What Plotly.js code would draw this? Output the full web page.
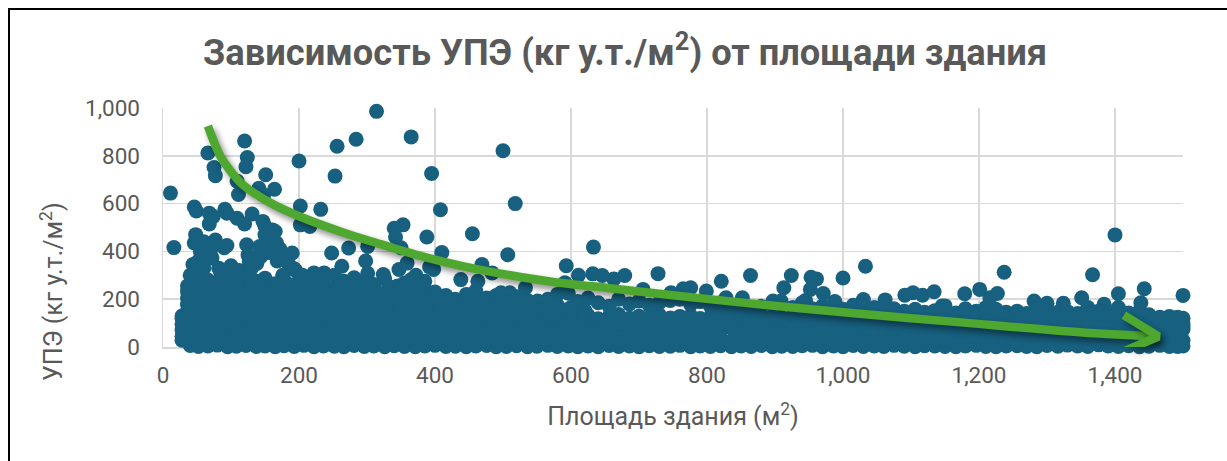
<!DOCTYPE html>
<html>
<head>
<meta charset="utf-8">
<script src="https://cdn.plot.ly/plotly-3.0.1.min.js"></script>
<style>
html,body{margin:0;padding:0;background:#fff;overflow:hidden}
#wrap{position:relative;width:1227px;height:461px}
#chart{width:1227px;height:461px}
#frame{position:absolute;left:8px;top:8px;right:0;bottom:0;border-left:2px solid #000;border-top:2px solid #000;pointer-events:none}
</style>
</head>
<body>
<div id="wrap"><div id="chart"></div><div id="frame"></div></div>
<script>
const chartTitle = 'Зависимость УПЭ (кг у.т./м<sup>2</sup>) от площади здания';
const xAxisTitle = 'Площадь здания (м<sup>2</sup>)';
const yAxisTitle = 'УПЭ (кг у.т./м<sup>2</sup>)';

// isolated buildings above the main cloud
const outlierX = [11,66,120,124,122,75,77,151,109,200,256,284,314,365,253,395,500,518,408,111,141,148,164,202,232,46,49,68,91,94,109,131,120,147,161,165,68,74,202,216,340,353,388,455,342,
 16,46,94,123,77,633,507,593,611,632,646,663,469,484,398,438,463,273,248,301,298,263,190,167,127,144,359,347,324,301,222,237,193,510,497,533,551,580,591,365,385,
 679,728,821,864,924,913,953,961,952,971,1000,1033,1237,1367,1400,1443,1405,1500,1103,1117,1134,1091,1179,1201,1216,1227,1146,1281,1351,776,765,799,747,706,828,852,897,909,945,988,1030,1062,1300,1324,1384,1438,
 44,52,60,72,85,100,112,125,138,150,158,172,178,185,195,150,160,55,48,82,70,60,142,168,155,176,130,90,110,205,350,372,345,392,410];
const outlierY = [644,812,862,793,754,751,717,721,694,778,840,869,986,879,715,726,821,600,574,638,664,636,660,590,576,586,569,560,576,560,539,556,515,525,490,483,515,546,511,504,497,511,460,474,460,
 416,435,425,428,448,418,386,340,300,306,299,285,345,310,324,282,275,414,393,421,360,338,393,435,358,379,351,324,303,308,310,310,327,227,227,248,192,220,269,282,275,
 299,307,275,299,299,248,292,285,241,224,289,338,313,302,469,244,223,216,227,217,231,217,223,241,206,224,172,192,206,248,244,234,227,241,206,206,192,192,195,190,199,197,183,183,179,185,
 345,360,330,372,310,340,320,385,350,470,440,410,375,345,320,505,460,400,470,330,405,440,420,360,395,300,330,415,300,300,415,300,255,335,395];

// the dense band, read column by column
const bandX = [28,40,52,66,80,95,108,122,137,150,
 165,178,193,207,222,236,252,266,281,296,
 310,326,340,355,371,385,400,416,430,446,
 460,476,490,505,520,536,550,566,580,596,
 610,625,640,656,670,686,700,715,730,746,
 760,776,790,805,820,836,850,865,880,896,
 910,926,940,955,970,986,1000,1015,1030,1046,
 1060,1075,1090,1106,1120,1135,1150,1166,1180,1196,
 1210,1225,1240,1256,1270,1285,1300,1316,1330,1345,
 1360,1376,1390,1405,1420,1436,1450,1466,1480,1492,1500];
const bandLow = [28,6,2,4,8,1,3,6,2,4,
 1,5,2,7,1,4,3,1,6,2,
 4,1,5,2,1,4,7,2,3,1,
 4,6,1,2,5,1,3,7,2,4,
 1,4,1,6,2,4,1,5,2,3,
 7,1,4,2,5,1,4,2,6,1,
 3,2,5,7,1,4,1,6,2,4,
 2,7,3,1,5,4,2,1,4,7,
 2,1,4,5,2,1,6,3,8,4,
 2,9,4,2,5,1,3,7,2,2,4];
const bandRow2 = [45,34,28,36,25,32,27,38,30,26,
 35,29,37,24,33,28,36,31,25,34,
 27,38,30,26,35,29,24,37,32,28,
 36,25,33,30,27,38,26,34,29,31,
 25,36,28,33,27,37,30,24,35,29,
 32,26,38,28,34,25,31,36,27,33,
 29,35,24,30,37,26,34,28,32,25,
 36,27,33,29,38,26,31,35,24,30,
 34,28,37,25,32,29,36,27,33,26,
 35,30,24,37,28,33,26,31,35,29,27];
const bandMid1 = [72,68,62,75,64,78,71,63,67,76,
 60,65,73,64,70,77,66,61,74,69,
 78,64,63,72,67,60,75,63,79,70,
 66,64,76,73,61,68,77,64,62,71,
 75,67,63,70,78,65,60,73,68,62,
 64,76,71,64,67,79,72,66,61,75,
 69,63,64,77,72,60,67,74,62,65,
 78,70,64,66,75,61,68,72,64,79,
 76,63,67,71,60,65,74,62,69,77,
 66,72,60,68,75,64,78,70,62,67,73];
const bandMid2 = [95,105,92,110,98,88,106,96,112,90,
 102,94,108,87,100,113,92,104,89,110,
 97,106,90,112,95,101,88,109,93,104,
 98,111,87,103,94,108,90,100,113,92,
 105,88,110,96,101,91,107,94,112,89,
 103,97,109,86,100,93,111,95,104,88,
 106,92,102,110,90,97,108,87,103,94,
 100,89,96,106,85,92,101,88,95,84,
 91,98,86,93,88,96,84,90,87,94,
 82,88,92,85,90,83,87,91,84,89,86];
const bandRow5 = [120,135,128,140,125,132,122,138,127,134,
 124,130,142,126,136,121,133,128,139,123,
 135,127,141,125,131,122,137,129,118,134,
 126,120,132,124,138,119,128,135,122,130,
 125,133,118,127,136,120,129,123,134,121,
 128,131,119,126,135,117,124,130,122,128,
 120,132,125,118,127,123,130,116,126,121,
 124,114,120,128,110,117,125,112,119,108,
 115,122,110,118,108,120,106,114,110,112,
 118,108,104,116,106,112,102,108,106,104,100];
const bandTop = [130,300,290,280,270,285,270,282,275,288,
 265,280,262,255,268,285,300,275,290,270,
 262,285,250,268,280,240,230,215,200,220,
 235,205,215,190,210,195,180,200,175,225,
 190,205,185,170,200,180,192,175,185,195,
 200,178,190,172,185,165,178,160,170,180,
 175,165,185,160,172,178,158,175,170,165,
 172,160,150,158,145,152,172,142,160,150,
 165,158,145,150,140,160,150,145,148,140,
 165,150,135,165,142,150,135,125,128,125,120];

// upper part of the cloud on the left
const upperX = [36,42,48,55,62,70,78,86,94,102,110,118,126,134,142,150,158,166,174,182,190,198,210,224,238,250,262,276,290,304,318,332,348,362,378,392,408,424,440,456,472,488,504,520,536,552,568,584,600,620];
const upperA = [150,135,145,160,140,155,148,165,138,152,160,142,156,168,145,150,162,140,155,148,165,142,158,150,164,145,155,138,160,150,142,156,148,162,140,152,145,158,138,150,146,155,140,150,135,146,138,150,140,135];
const upperB = [205,190,215,198,225,205,190,218,200,210,228,195,215,205,190,222,200,212,195,225,205,190,210,198,215,205,192,220,200,208,195,212,200,190,205,195,185,172,190,178,168,182,172,165,178,160,170,158,165,155];
const upperC = [255,240,250,262,238,258,245,232,255,240,262,235,250,242,258,235,248,260,238,250,235,228,240,252,235,245,258,232,248,238,225,240,230,245,225,215,205,195,178,200,185,170,165,150,155,148,160,145,150,145];
const upperD = [178,165,182,172,170,180,168,188,176,175,185,170,182,190,172,178,186,168,176,172,188,166,184,175,190,172,180,165,184,176,168,182,175,172,165,178,170,165,160,168,158,170,155,160,150,155,152,160,150,148];
const upperE = [232,220,235,228,212,236,218,250,228,225,245,215,232,225,212,240,222,235,215,240,225,210,228,222,234,225,218,240,222,226,212,228,216,222,215,205,195,185,176,188,175,175,160,158,165,152,163,150,158,150];

// green arrow
const curveX = [66,85,115,155,202,266,312,370,458,574,657,831,1004,1178,1352,1462];
const curveY = [925,796,685,608,545,478,437,388,328,272,246,192,144,102,61,44];
const headX = [1413,1464,1410];
const headY = [133,44,-22];

const bandTraces = [bandLow, bandRow2, bandMid1, bandMid2, bandRow5, bandTop].map(ys => ({x: bandX, y: ys}));
const upperTraces = [upperA, upperB, upperC, upperD, upperE].map(ys => ({x: upperX, y: ys}));
const allPts = [{x: outlierX, y: outlierY}].concat(bandTraces, upperTraces);

const dotColor = '#17607F';
const green = '#4EA72E';
const traces = allPts.map(p => ({
  x: p.x, y: p.y, type: 'scatter', mode: 'markers', cliponaxis: false, showlegend: false,
  hoverinfo: 'skip', marker: {color: dotColor, size: 15, line: {width: 0}}
}));
traces.push({x: curveX, y: curveY, type: 'scatter', mode: 'lines', cliponaxis: false, showlegend: false,
  hoverinfo: 'skip', line: {color: green, width: 8.5, shape: 'spline', smoothing: 0.8}});
traces.push({x: headX, y: headY, type: 'scatter', mode: 'lines', cliponaxis: false, showlegend: false,
  hoverinfo: 'skip', line: {color: green, width: 8.5}});

const tickFont = {family: 'Roboto, sans-serif', size: 22.5, color: '#595959'};
const axisTitleFont = {family: 'Roboto, sans-serif', size: 25, color: '#595959'};
const layout = {
  width: 1227, height: 461,
  margin: {l: 163.3, r: 44, t: 107.5, b: 113.5, pad: 0},
  paper_bgcolor: '#fff', plot_bgcolor: '#fff',
  font: {family: 'Roboto, sans-serif', color: '#595959'},
  showlegend: false,
  title: {text: chartTitle, font: {family: 'Roboto, sans-serif', size: 36.3, weight: 700, color: '#595959'},
    x: 0.5094, xref: 'container', xanchor: 'center', y: 0.887, yanchor: 'middle'},
  xaxis: {range: [0, 1500], tick0: 0, dtick: 200, tickformat: ',d', tickfont: tickFont, automargin: false, layer: 'below traces',
    showgrid: true, gridcolor: '#D9D9D9', gridwidth: 1.5, showline: true, linecolor: '#D9D9D9', linewidth: 1.5,
    zeroline: false, ticks: '', ticklabelstandoff: 7,
    title: {text: xAxisTitle, font: axisTitleFont, standoff: 21}},
  yaxis: {range: [0, 1000], tick0: 0, dtick: 200, tickformat: ',d', tickfont: tickFont, automargin: false, layer: 'below traces',
    showgrid: true, gridcolor: '#D9D9D9', gridwidth: 1.5, showline: true, linecolor: '#D9D9D9', linewidth: 1.5,
    zeroline: false, ticks: '', ticklabelstandoff: 17},
  annotations: [{text: yAxisTitle, textangle: -90, showarrow: false, font: axisTitleFont,
    xref: 'paper', yref: 'paper', x: -0.1085, y: 0.232, xanchor: 'center', yanchor: 'middle'}]
};
Plotly.newPlot('chart', traces, layout, {displayModeBar: false, staticPlot: true}).then(() => {
  const ts = document.querySelectorAll('.scatterlayer .trace');
  [ts[ts.length - 1], ts[ts.length - 2]].forEach(t => {
    t.style.filter = 'drop-shadow(3px 4px 3px rgba(0,0,0,0.45))';
  });
});
</script>
</body>
</html>
